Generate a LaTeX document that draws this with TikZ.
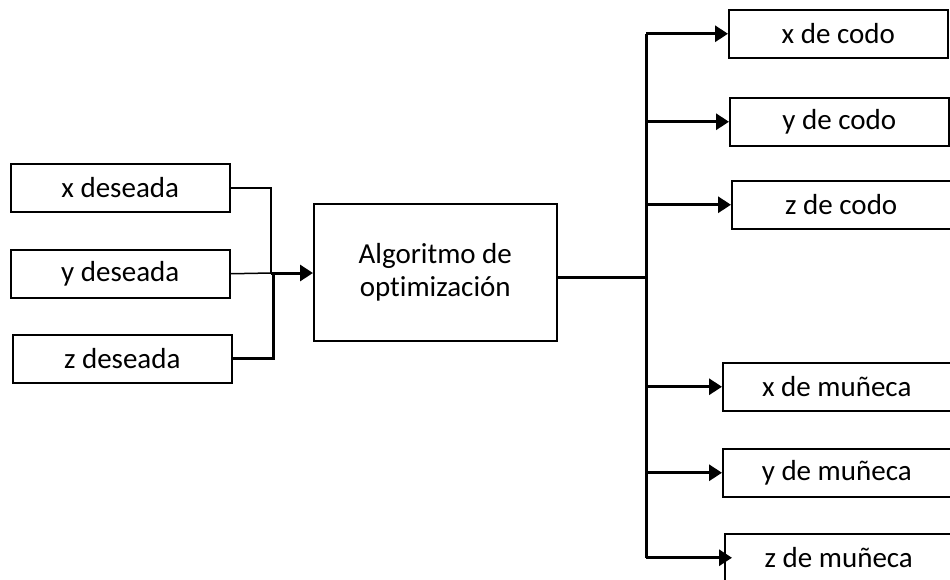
\documentclass[tikz,border=0pt]{standalone}
\usepackage{fontspec}
\setmainfont{Carlito}[Ligatures={NoCommon}]
\usetikzlibrary{arrows.meta}
\begin{document}
\begin{tikzpicture}[x=1pt,y=-1pt,
  box/.style={draw, line width=1.5pt, minimum width=219pt, minimum height=48pt, inner sep=0pt, anchor=north west, font=\fontsize{29}{33}\selectfont},
  thin/.style={line width=1.5pt},
  thick/.style={line width=3pt},
  arr/.style={line width=3pt, -{Triangle[length=13pt,width=16pt]}}]
\clip (0,0) rectangle (950,579);
\fill[white] (0,0) rectangle (950,579);
% inputs
\node[box] (xd) at (10,163) {x deseada};
\node[box] (yd) at (10,249) {y deseada};
\node[box] (zd) at (12,334) {z deseada};
% algorithm
\node[box, minimum width=243pt, minimum height=137pt, align=center] (alg) at (313,203) {Algoritmo de\\optimización};
% outputs
\node[box] (xc) at (728,9) {x de codo};
\node[box] (yc) at (729,97) {y de codo};
\node[box] (zc) at (731,180) {z de codo};
\node[box, minimum width=228pt] (xm) at (722,362) {x de muñeca};
\node[box, minimum width=228pt] (ym) at (722,448) {y de muñeca};
\node[box, minimum width=228pt] (zm) at (724,533) {z de muñeca};
% junctions
\coordinate (jl) at (271,273);
\coordinate (jr) at (646,277);
% input connectors
\draw[thin] (xd.east) -| (jl);
\draw[thin] (yd.east) -- (jl);
\draw[thick] (zd.east) -| ([xshift=2pt]jl);
\draw[arr] (jl) -- (alg.west |- jl);
% output connectors
\draw[thick] (alg.east |- jr) -- (jr);
\draw[thick] (jr |- xc.west) -- (jr |- zm.west);
\draw[arr] (jr |- xc.west) -- (xc.west);
\draw[arr] (jr |- yc.west) -- (yc.west);
\draw[arr] (jr |- zc.west) -- (zc.west);
\draw[arr] (jr |- xm.west) -- (xm.west);
\draw[arr] (jr |- ym.west) -- (ym.west);
\draw[arr] (jr |- zm.west) -- ([xshift=8pt]zm.west);
\end{tikzpicture}
\end{document}
